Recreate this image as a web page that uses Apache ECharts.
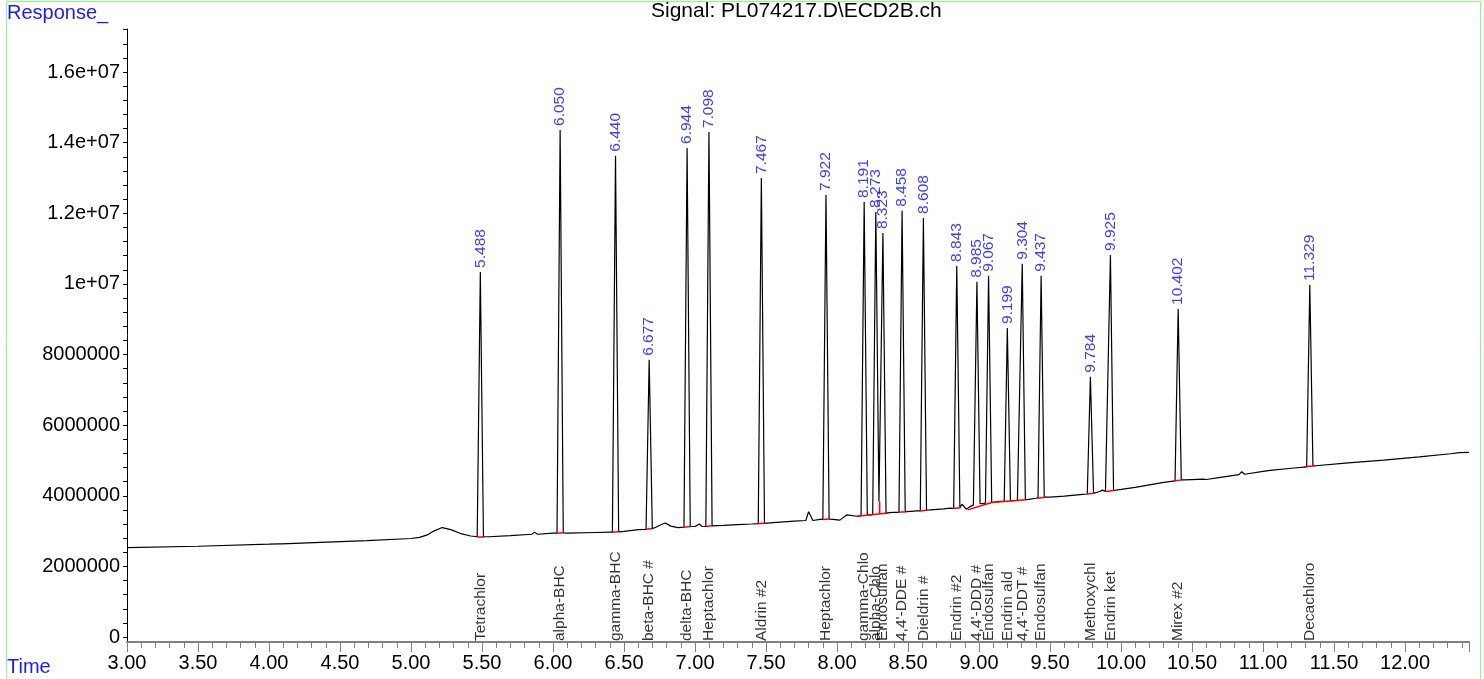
<!DOCTYPE html>
<html>
<head>
<meta charset="utf-8">
<script src="https://cdn.jsdelivr.net/npm/echarts@6/dist/echarts.min.js"></script>
<style>
html,body{margin:0;padding:0;background:#fff;}
#chart{width:1484px;height:679px;}
</style>
</head>
<body>
<div id="chart"></div>
<script>
// ---------- data ----------
const peakTimes = [5.488, 6.050, 6.440, 6.677, 6.944, 7.098, 7.467, 7.922, 8.191, 8.273, 8.323, 8.458, 8.608, 8.843, 8.985, 9.067, 9.199, 9.304, 9.437, 9.784, 9.925, 10.402, 11.329];
const peakApex = [10340000, 14360000, 13630000, 7850000, 13850000, 14300000, 13000000, 12520000, 12320000, 12040000, 11440000, 12070000, 11870000, 10510000, 10060000, 10230000, 8750000, 10570000, 10230000, 7370000, 10820000, 9290000, 9970000];
const peakLeftFoot = [2840000, 2940000, 2970000, 3050000, 3110000, 3130000, 3210000, 3330000, 3430000, 3470000, 3830000, 3530000, 3570000, 3640000, 3740000, 3790000, 3840000, 3870000, 3940000, 4050000, 4120000, 4420000, 4820000];
const peakRightFoot = [2840000, 2950000, 2980000, 3070000, 3130000, 3150000, 3220000, 3340000, 3470000, 3830000, 3510000, 3550000, 3590000, 3660000, 3780000, 3810000, 3860000, 3890000, 3960000, 4070000, 4150000, 4450000, 4850000];
const compoundNames = ["Tetrachlor", "alpha-BHC", "gamma-BHC", "beta-BHC #", "delta-BHC", "Heptachlor", "Aldrin #2", "Heptachlor", "gamma-Chlo", "alpha-Chlo", "Endosulfan", "4,4'-DDE #", "Dieldrin #", "Endrin #2", "4,4'-DDD #", "Endosulfan", "Endrin ald", "4,4'-DDT #", "Endosulfan", "Methoxychl", "Endrin ket", "Mirex #2", "Decachloro"];

// baseline trace between peaks: [time, response]
const baselinePoints = [
  [3.00, 2530000], [3.50, 2570000], [4.00, 2630000], [4.07, 2640000], [4.08, 2670000], [4.09, 2640000],
  [4.50, 2700000], [4.69, 2730000], [5.00, 2790000], [5.06, 2820000], [5.12, 2900000], [5.16, 3000000],
  [5.22, 3100000], [5.28, 3040000], [5.35, 2930000], [5.42, 2860000],
  [5.55, 2840000], [5.70, 2870000], [5.85, 2910000], [5.87, 2970000], [5.89, 2910000], [6.00, 2940000],
  [6.10, 2940000], [6.30, 2960000], [6.40, 2970000], [6.50, 2990000], [6.60, 3040000], [6.72, 3100000],
  [6.76, 3180000], [6.79, 3230000], [6.83, 3140000], [6.88, 3100000], [7.00, 3130000], [7.03, 3200000],
  [7.05, 3130000], [7.20, 3160000], [7.30, 3180000], [7.40, 3200000], [7.55, 3240000], [7.70, 3280000],
  [7.78, 3300000], [7.80, 3550000], [7.83, 3300000], [7.88, 3330000], [7.97, 3330000], [8.02, 3310000],
  [8.07, 3460000], [8.14, 3420000], [8.232, 3450000], [8.37, 3520000], [8.40, 3530000], [8.52, 3560000],
  [8.56, 3570000], [8.66, 3600000], [8.75, 3630000], [8.80, 3650000], [8.88, 3760000], [8.91, 3620000],
  [8.94, 3700000], [8.96, 3740000], [9.026, 3780000], [9.10, 3820000], [9.15, 3840000], [9.24, 3860000],
  [9.27, 3870000], [9.35, 3900000], [9.40, 3930000], [9.50, 3960000], [9.60, 3990000], [9.73, 4040000],
  [9.85, 4120000], [9.87, 4160000], [9.89, 4120000], [10.00, 4180000], [10.10, 4240000], [10.30, 4380000],
  [10.45, 4450000], [10.58, 4470000], [10.60, 4460000], [10.70, 4520000], [10.83, 4600000], [10.85, 4680000],
  [10.87, 4610000], [11.00, 4690000], [11.05, 4720000], [11.20, 4780000], [11.37, 4850000], [11.60, 4930000],
  [11.85, 5010000], [12.10, 5100000], [12.32, 5190000], [12.38, 5220000], [12.45, 5230000]
];

// integration baselines (red): [t0, v0, t1, v1]
const integrationBaselines = [
  [5.465, 2830000, 5.515, 2830000], [6.030, 2940000, 6.075, 2950000], [6.415, 2970000, 6.465, 2980000],
  [6.655, 3050000, 6.700, 3070000], [6.920, 3110000, 6.970, 3130000], [7.075, 3130000, 7.120, 3150000],
  [7.445, 3210000, 7.490, 3220000], [7.900, 3330000, 7.945, 3340000], [8.140, 3420000, 8.360, 3510000],
  [8.300, 3490000, 8.300, 3830000], [8.430, 3530000, 8.490, 3550000], [8.580, 3570000, 8.635, 3590000],
  [8.815, 3640000, 8.870, 3660000], [8.920, 3600000, 9.090, 3810000], [9.090, 3810000, 9.330, 3890000],
  [9.410, 3930000, 9.470, 3960000], [9.760, 4050000, 9.810, 4070000], [9.890, 4120000, 9.950, 4150000],
  [10.370, 4420000, 10.430, 4450000], [11.290, 4820000, 11.370, 4850000]
];

const yTickValues = [0, 2000000, 4000000, 6000000, 8000000, 10000000, 12000000, 14000000, 16000000];
const yTickLabels = ["0", "2000000", "4000000", "6000000", "8000000", "1e+07", "1.2e+07", "1.4e+07", "1.6e+07"];
const xTickDecimals = 2;

// ---------- build series ----------
const halfWidth = 0.022;
let trace = baselinePoints.slice();
for (let i = 0; i < peakTimes.length; i++) {
  trace.push([peakTimes[i] - halfWidth, peakLeftFoot[i]]);
  trace.push([peakTimes[i], peakApex[i]]);
  trace.push([peakTimes[i] + halfWidth, peakRightFoot[i]]);
}
trace.sort((a, b) => a[0] - b[0]);

const redData = [];
integrationBaselines.forEach(s => {
  redData.push([s[0], s[1]]);
  redData.push([s[2], s[3]]);
  redData.push(null);
});

const yMinorTicks = [];
for (let v = 0; v <= 17200000; v += 400000) yMinorTicks.push(v);

const chart = echarts.init(document.getElementById('chart'), null, {renderer: 'canvas'});
const FONT = 'Liberation Sans, Arial, sans-serif';

chart.setOption({
  animation: false,
  backgroundColor: '#fff',
  grid: {left: 127, right: 15, top: 29, bottom: 37, containLabel: false, outerBoundsMode: 'none'},
  xAxis: {
    type: 'value', min: 3, max: 12.45, interval: 0.5,
    axisLine: {onZero: false, lineStyle: {color: '#808080', width: 2}},
    axisTick: {show: true, length: 10, lineStyle: {color: '#808080', width: 1}},
    minorTick: {show: true, splitNumber: 5, length: 6, lineStyle: {color: '#808080', width: 1}},
    splitLine: {show: false},
    axisLabel: {fontSize: 20, color: '#000', fontFamily: FONT, margin: 11,
      showMaxLabel: false, showMinLabel: true,
      formatter: v => v.toFixed(xTickDecimals)}
  },
  yAxis: {
    type: 'value', min: -141600, max: 17220000,
    axisLine: {show: true, lineStyle: {color: '#000', width: 1}},
    axisTick: {show: true, length: 4, customValues: yMinorTicks, lineStyle: {color: '#000'}},
    splitLine: {show: false},
    axisLabel: {fontSize: 20, color: '#000', fontFamily: FONT, margin: 7,
      customValues: yTickValues,
      formatter: v => { const i = yTickValues.indexOf(v); return i >= 0 ? yTickLabels[i] : ''; }}
  },
  series: [
    {
      type: 'line', data: trace, showSymbol: false, symbol: 'none',
      lineStyle: {color: '#000', width: 1.2}, z: 3, silent: true
    },
    {
      type: 'line', data: redData, showSymbol: false, symbol: 'none', connectNulls: false,
      lineStyle: {color: '#ff0000', width: 1.5}, z: 4, silent: true
    },
    {
      type: 'scatter', symbolSize: 0, z: 5, silent: true,
      data: peakTimes.map((t, i) => [t, peakApex[i]]),
      label: {show: true, position: 'top', distance: 4, rotate: 90, align: 'left', verticalAlign: 'middle',
        color: '#0a0aff', fontSize: 15.5, fontFamily: FONT,
        formatter: p => peakTimes[p.dataIndex].toFixed(3)}
    },
    {
      type: 'scatter', symbolSize: 0, z: 5, silent: true,
      data: peakTimes.map(t => [t, 0]),
      label: {show: true, position: 'inside', rotate: 90, align: 'left', verticalAlign: 'middle',
        color: '#000', fontSize: 15.5, fontFamily: FONT, offset: [-4, 0],
        formatter: p => compoundNames[p.dataIndex]}
    }
  ],
  graphic: [
    {type: 'rect', shape: {x: 6.5, y: 1.5, width: 1474, height: 700}, style: {fill: 'none', stroke: '#80ff80', lineWidth: 1}, silent: true},
    {type: 'text', left: 7, top: 3, style: {text: 'Response_', fill: '#1a1aff', font: '20px ' + FONT}},
    {type: 'text', left: 7, top: 657, style: {text: 'Time', fill: '#1a1aff', font: '20px ' + FONT}},
    {type: 'text', left: 651, top: 1, style: {text: 'Signal: PL074217.D\\ECD2B.ch', fill: '#000', font: '21px ' + FONT}}
  ]
});
</script>
</body>
</html>
